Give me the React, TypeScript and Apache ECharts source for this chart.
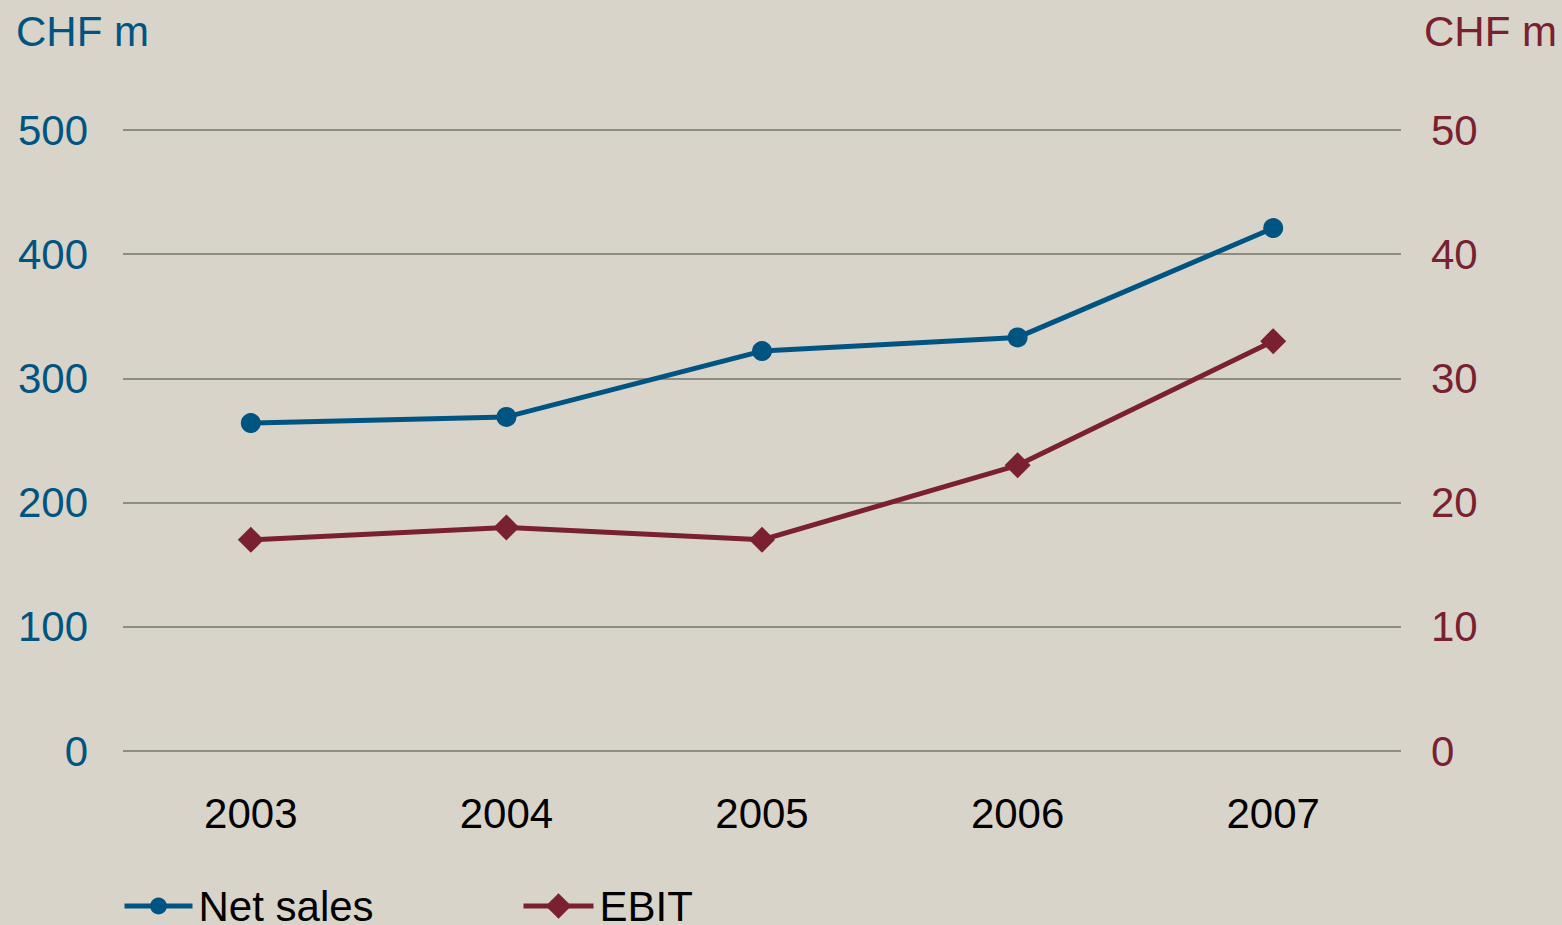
import React, { useEffect, useRef } from "react";
import * as echarts from "echarts";

const years = ["2003", "2004", "2005", "2006", "2007"];
const netSales = [264, 269, 322, 333, 421];
const ebit = [17, 18, 17, 23, 33];

const BLUE = "#005482";
const MAROON = "#7a2030";
const BG = "#d8d4c9";
const GRID = "#8d8c80";
const FONT = "'Liberation Sans', Arial, sans-serif";

const legendText = {
  color: "#000",
  fontSize: 42,
  fontFamily: FONT,
  lineHeight: 42,
  padding: [0, 0, 0, 1],
};

export default function App() {
  const ref = useRef<HTMLDivElement>(null);

  useEffect(() => {
    if (!ref.current) return;
    const chart = echarts.init(ref.current, undefined, { renderer: "svg" });
    chart.setOption({
      animation: false,
      backgroundColor: BG,
      textStyle: { fontFamily: FONT },
      grid: { left: 123, right: 161, top: 130, bottom: 174 },
      graphic: [
        {
          type: "text",
          left: 16,
          top: 10,
          style: { text: "CHF m", fill: BLUE, font: `42px ${FONT}` },
        },
        {
          type: "text",
          right: 5,
          top: 10,
          style: { text: "CHF m", fill: MAROON, font: `42px ${FONT}` },
        },
      ],
      legend: [
        {
          left: 122,
          top: 885,
          padding: 0,
          itemWidth: 68,
          itemHeight: 21,
          lineStyle: { width: 5 },
          textStyle: legendText,
          data: [{ name: "Net sales" }],
        },
        {
          left: 521,
          top: 885,
          padding: 0,
          itemWidth: 70,
          itemHeight: 32,
          lineStyle: { width: 5 },
          textStyle: legendText,
          data: [{ name: "EBIT" }],
        },
      ],
      xAxis: {
        type: "category",
        data: years,
        boundaryGap: true,
        axisLine: { show: false },
        axisTick: { show: false },
        axisLabel: { color: "#000", fontSize: 42, fontFamily: FONT, margin: 41 },
      },
      yAxis: [
        {
          type: "value",
          min: 0,
          max: 500,
          interval: 100,
          axisLine: { show: false },
          axisTick: { show: false },
          axisLabel: { color: BLUE, fontSize: 42, fontFamily: FONT, margin: 35 },
          splitLine: { lineStyle: { color: GRID, width: 2 } },
        },
        {
          type: "value",
          min: 0,
          max: 50,
          interval: 10,
          position: "right",
          axisLine: { show: false },
          axisTick: { show: false },
          axisLabel: { color: MAROON, fontSize: 42, fontFamily: FONT, margin: 30 },
          splitLine: { show: false },
        },
      ],
      series: [
        {
          name: "Net sales",
          type: "line",
          yAxisIndex: 0,
          data: netSales,
          symbol: "circle",
          symbolSize: 20,
          lineStyle: { color: BLUE, width: 5 },
          itemStyle: { color: BLUE },
        },
        {
          name: "EBIT",
          type: "line",
          yAxisIndex: 1,
          data: ebit,
          symbol: "diamond",
          symbolSize: 26,
          lineStyle: { color: MAROON, width: 5 },
          itemStyle: { color: MAROON },
        },
      ],
    });
    return () => chart.dispose();
  }, []);

  return <div ref={ref} style={{ width: 1562, height: 925, position: "fixed", left: 0, top: 0 }} />;
}
